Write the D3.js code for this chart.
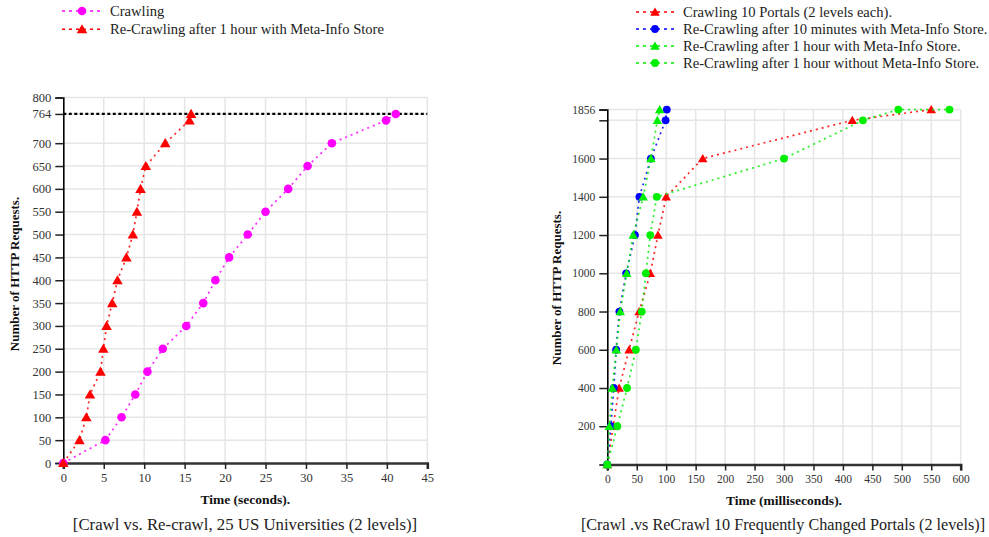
<!DOCTYPE html>
<html><head><meta charset="utf-8">
<script src="https://cdn.jsdelivr.net/npm/d3@7"></script>
<style>
body{margin:0;background:#fff;}
svg{display:block;}
text{font-family:"Liberation Serif","Times New Roman",serif;}
</style>
</head><body>
<svg id="c" width="989" height="537"></svg>
<script>
// ---------- Left chart data (25 US Universities) ----------
const leftRequests   = [0,50,100,150,200,250,300,350,400,450,500,550,600,650,700,750,764];
const leftCrawlTime  = [0,5.2,7.2,8.9,10.4,12.3,15.2,17.3,18.8,20.5,22.8,25.0,27.8,30.2,33.2,39.9,41.1];
const leftRecrawlTime= [0,2.0,2.85,3.3,4.6,4.95,5.35,6.05,6.7,7.8,8.6,9.1,9.55,10.2,12.6,15.6,15.8];
const leftYTicks = [0,50,100,150,200,250,300,350,400,450,500,550,600,650,700,764,800];
const leftXTicks = [0,5,10,15,20,25,30,35,40,45];
const leftLimit = 764;
const leftSeriesNames = ["Crawling","Re-Crawling after 1 hour with Meta-Info Store"];

// ---------- Right chart data (10 Portals) ----------
const portalRequests = [0,200,400,600,800,1000,1200,1400,1600,1800,1856];
const portalCrawlTime       = [0,10,20,37,54,73,86,100,162,416,550];
const portalRe10MinTime     = [0,6,11,15,20.5,32,47,54.5,74,99,101];
const portalRe1hMetaTime    = [0,3.5,8.5,15.3,22,33,44,61,74,85,89];
const portalRe1hNoMetaReq   = [0,200,400,600,800,1000,1200,1400,1600,1800,1856,1856];
const portalRe1hNoMetaTime  = [0,17,33.5,48.5,58.5,65.5,73,84,300,434,494,581];
const rightYTicks = [200,400,600,800,1000,1200,1400,1600,1800,1856];
const rightXTicks = [0,50,100,150,200,250,300,350,400,450,500,550,600];
const rightSeriesNames = ["Crawling 10 Portals (2 levels each).",
  "Re-Crawling after 10 minutes with Meta-Info Store.",
  "Re-Crawling after 1 hour with Meta-Info Store.",
  "Re-Crawling after 1 hour without Meta-Info Store."];

const svg = d3.select("#c");

function zip(t, v){ return t.map((d,i)=>({t:d, v:v[i]})); }

function drawMarker(g, shape, color, x, y, size){
  if(shape==="circle"){
    g.append("circle").attr("cx",x).attr("cy",y).attr("r",size).attr("fill",color);
  } else {
    g.append("path").attr("transform",`translate(${x},${y+1})`)
      .attr("d", d3.symbol().type(d3.symbolTriangle).size(size*size*2.6)())
      .attr("fill",color);
  }
}

function panel(o){
  const x = d3.scaleLinear().domain(o.xDomain).range([o.x0,o.x1]);
  const y = d3.scaleLinear().domain(o.yDomain).range([o.y0,o.y1]);
  const g = svg.append("g");
  // grid
  g.append("g").selectAll("line").data(o.xTicks.filter(d=>d>o.xDomain[0])).join("line")
    .attr("x1",d=>x(d)).attr("x2",d=>x(d)).attr("y1",o.y0).attr("y2",o.y1)
    .attr("stroke","#e6e6e6").attr("stroke-width",1.5);
  g.append("g").selectAll("line").data(o.yTicks.filter(d=>d>o.yDomain[0])).join("line")
    .attr("x1",o.x0).attr("x2",o.x1).attr("y1",d=>y(d)).attr("y2",d=>y(d))
    .attr("stroke","#e6e6e6").attr("stroke-width",1.5);
  // limit line
  if(o.limit!==undefined){
    g.append("line").attr("x1",o.x0).attr("x2",o.x1).attr("y1",y(o.limit)).attr("y2",y(o.limit))
      .attr("stroke","#000").attr("stroke-width",2.2).attr("stroke-dasharray","3,2.5");
  }
  // axes
  const ya = g.append("g").attr("transform",`translate(${o.x0},0)`)
    .call(d3.axisLeft(y).tickValues(o.yTicks).tickFormat(o.yFmt||(d=>d)).tickSizeOuter(0).tickSize(8).tickPadding(4));
  ya.select(".domain").attr("stroke","#000").attr("stroke-width",1.6);
  ya.selectAll(".tick line").attr("stroke","#222").attr("stroke-width",1.5);
  ya.selectAll("text").attr("font-size",o.fs).attr("fill","#333").attr("font-family","Liberation Serif");
  const xa = g.append("g").attr("transform",`translate(0,${o.y0})`)
    .call(d3.axisBottom(x).tickValues(o.xTicks).tickSizeOuter(0).tickSize(6).tickPadding(4));
  xa.select(".domain").attr("stroke","#333").attr("stroke-width",2.6);
  xa.selectAll(".tick line").attr("stroke","#222").attr("stroke-width",1.5);
  xa.selectAll("text").attr("font-size",o.fs).attr("fill","#333").attr("font-family","Liberation Serif");
  // series
  const line = d3.line().x(d=>x(d.t)).y(d=>y(d.v));
  o.series.forEach(s=>{
    const pts = zip(s.t, s.v);
    g.append("path").datum(pts).attr("d",line).attr("fill","none")
      .attr("stroke",s.color).attr("stroke-width",1.7).attr("stroke-dasharray","2,4").attr("opacity",0.85);
    const mg = g.append("g");
    pts.forEach(p=>drawMarker(mg, s.shape, s.color, x(p.t), y(p.v), o.ms));
  });
  // axis titles
  g.append("text").attr("transform",`translate(${o.yLabelX},${o.yLabelY}) rotate(-90)`)
    .attr("text-anchor","middle").attr("font-weight","bold").attr("font-size",13).attr("fill","#111")
    .text("Number of HTTP Requests.");
  g.append("text").attr("x",(o.x0+o.x1)/2).attr("y",o.xLabelY).attr("text-anchor","middle")
    .attr("font-weight","bold").attr("font-size",13.5).attr("fill","#111").text(o.xLabel);
  g.append("text").attr("x",o.captionX).attr("y",o.captionY).attr("text-anchor","middle")
    .attr("font-size",o.captionFs).attr("fill","#222").text(o.caption);
  // legend
  o.series.forEach((s,i)=>{
    const ly = o.legY + i*o.legDy;
    g.append("line").attr("x1",o.legX0).attr("x2",o.legX1).attr("y1",ly).attr("y2",ly)
      .attr("stroke",s.color).attr("stroke-width",1.6).attr("stroke-dasharray","3,4");
    drawMarker(g, s.shape, s.color, (o.legX0+o.legX1)/2, ly, o.ms);
    g.append("text").attr("x",o.legTX).attr("y",ly+5).attr("font-size",14.6).attr("fill","#222").text(s.name);
  });
}

panel({
  x0:63.3, x1:427.3, y0:463, y1:97.5,
  xDomain:[0,45], yDomain:[0,800],
  xTicks:leftXTicks, yTicks:leftYTicks, fs:12.5, ms:4.3,
  limit:leftLimit,
  series:[
    {name:leftSeriesNames[0], t:leftCrawlTime, v:leftRequests, color:"#ff00ff", shape:"circle"},
    {name:leftSeriesNames[1], t:leftRecrawlTime, v:leftRequests, color:"#ff0000", shape:"triangle"}
  ],
  yLabelX:19, yLabelY:274, xLabelY:504, xLabel:"Time (seconds).",
  captionX:245, captionY:530, captionFs:16.8, caption:"[Crawl vs. Re-crawl, 25 US Universities (2 levels)]",
  legX0:62, legX1:102, legTX:110, legY:11, legDy:18.3
});

panel({
  x0:607.3, x1:960.7, y0:464.5, y1:109.6,
  xDomain:[0,600], yDomain:[0,1856],
  xTicks:rightXTicks, yTicks:rightYTicks, yFmt:d=>d===1800?"":d, fs:11.5, ms:3.9,
  series:[
    {name:rightSeriesNames[0], t:portalCrawlTime, v:portalRequests, color:"#ff0000", shape:"triangle"},
    {name:rightSeriesNames[1], t:portalRe10MinTime, v:portalRequests, color:"#0000ff", shape:"circle"},
    {name:rightSeriesNames[2], t:portalRe1hMetaTime, v:portalRequests, color:"#00ee00", shape:"triangle"},
    {name:rightSeriesNames[3], t:portalRe1hNoMetaTime, v:portalRe1hNoMetaReq, color:"#00ee00", shape:"circle"}
  ],
  yLabelX:561, yLabelY:288, xLabelY:505, xLabel:"Time (milliseconds).",
  captionX:783, captionY:530, captionFs:16.2, caption:"[Crawl .vs ReCrawl 10 Frequently Changed Portals (2 levels)]",
  legX0:636, legX1:674, legTX:683, legY:12, legDy:17
});
</script>
</body></html>
